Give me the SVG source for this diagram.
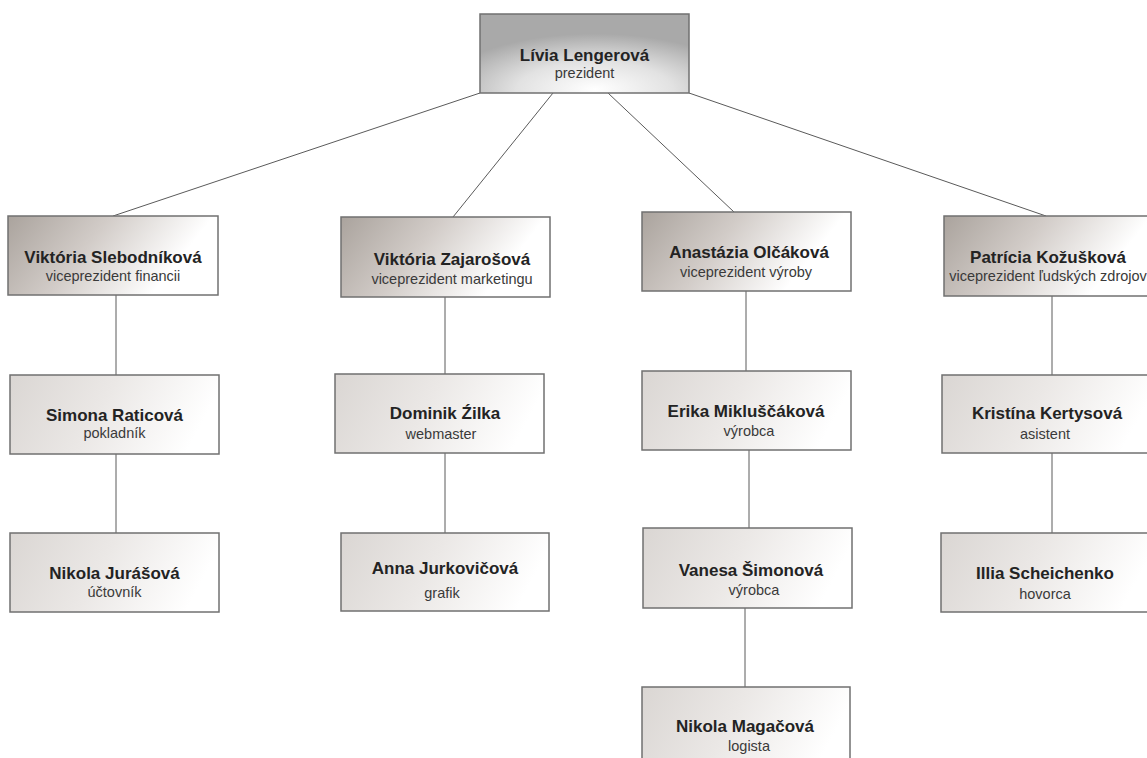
<svg xmlns="http://www.w3.org/2000/svg" width="1147" height="758" viewBox="0 0 1147 758">
<style>
.box{stroke:#707070;stroke-width:1.5}
.vp{fill:url(#gVp)}
.lo{fill:url(#gLo)}
.top{fill:url(#gTop)}
.n{font-family:"Liberation Sans",Arial,sans-serif;font-weight:bold;font-size:17px;fill:#232323;text-anchor:middle}
.s{font-family:"Liberation Sans",Arial,sans-serif;font-size:14.5px;fill:#3a3a3a;text-anchor:middle}
.c line{stroke:#5a5a5a;stroke-width:1}
</style>
<defs>
<linearGradient id="gVp" x1="0" y1="0" x2="1" y2="0.3">
<stop offset="0" stop-color="#aaa39d"/>
<stop offset="0.45" stop-color="#d2ccc8"/>
<stop offset="0.9" stop-color="#ffffff"/>
</linearGradient>
<linearGradient id="gLo" x1="0" y1="0" x2="1" y2="0.2">
<stop offset="0" stop-color="#dad6d3"/>
<stop offset="0.5" stop-color="#ebe8e6"/>
<stop offset="1" stop-color="#ffffff"/>
</linearGradient>
<radialGradient id="gTop" cx="0.55" cy="1" r="0.75" fx="0.55" fy="0.95">
<stop offset="0" stop-color="#ffffff"/>
<stop offset="0.5" stop-color="#e2e2e2"/>
<stop offset="1" stop-color="#a9a9a9"/>
</radialGradient>
</defs>
<rect width="1147" height="758" fill="#ffffff"/>
<g class="c" id="connectors">
<line x1="480" y1="93" x2="113" y2="216"/>
<line x1="553" y1="93" x2="453" y2="217"/>
<line x1="608" y1="93" x2="734" y2="212"/>
<line x1="689" y1="93" x2="1046" y2="216"/>
<line x1="116" y1="295" x2="116" y2="375"/>
<line x1="116" y1="454" x2="116" y2="533"/>
<line x1="445" y1="297" x2="445" y2="374"/>
<line x1="445" y1="453" x2="445" y2="533"/>
<line x1="746" y1="291" x2="746" y2="371"/>
<line x1="749" y1="450" x2="749" y2="528"/>
<line x1="745" y1="608" x2="745" y2="687"/>
<line x1="1052" y1="296" x2="1052" y2="375"/>
<line x1="1052" y1="453" x2="1052" y2="533"/>
</g>
<g id="pres">
<rect class="box top" x="480" y="14" width="209" height="79"/>
<text class="n" x="584.5" y="61">Lívia Lengerová</text>
<text class="s" x="584.5" y="78">prezident</text>
</g>
<g id="vp1">
<rect class="box vp" x="8" y="216" width="210" height="79"/>
<text class="n" x="113" y="263">Viktória Slebodníková</text>
<text class="s" x="113" y="281">viceprezident financii</text>
</g>
<g id="vp2">
<rect class="box vp" x="341" y="217" width="209" height="80"/>
<text class="n" x="452" y="265">Viktória Zajarošová</text>
<text class="s" x="452" y="284">viceprezident marketingu</text>
</g>
<g id="vp3">
<rect class="box vp" x="642" y="212" width="209" height="79"/>
<text class="n" x="749" y="258">Anastázia Olčáková</text>
<text class="s" x="746" y="277">viceprezident výroby</text>
</g>
<g id="vp4">
<rect class="box vp" x="944" y="216" width="212" height="80"/>
<text class="n" x="1048" y="263">Patrícia Kožušková</text>
<text class="s" x="1048" y="281">viceprezident ľudských zdrojov</text>
</g>
<g id="simona">
<rect class="box lo" x="10" y="375" width="209" height="79"/>
<text class="n" x="114.5" y="421">Simona Raticová</text>
<text class="s" x="114.5" y="438">pokladník</text>
</g>
<g id="nikolaJ">
<rect class="box lo" x="10" y="533" width="209" height="79"/>
<text class="n" x="114.5" y="579">Nikola Jurášová</text>
<text class="s" x="114.5" y="597">účtovník</text>
</g>
<g id="dominik">
<rect class="box lo" x="335" y="374" width="209" height="79"/>
<text class="n" x="445" y="419">Dominik Źilka</text>
<text class="s" x="441" y="439">webmaster</text>
</g>
<g id="anna">
<rect class="box lo" x="341" y="533" width="208" height="78"/>
<text class="n" x="445" y="574">Anna Jurkovičová</text>
<text class="s" x="442" y="598">grafik</text>
</g>
<g id="erika">
<rect class="box lo" x="642" y="371" width="209" height="79"/>
<text class="n" x="746" y="417">Erika Mikluščáková</text>
<text class="s" x="749" y="436">výrobca</text>
</g>
<g id="vanesa">
<rect class="box lo" x="643" y="528" width="209" height="80"/>
<text class="n" x="751" y="576">Vanesa Šimonová</text>
<text class="s" x="754" y="595">výrobca</text>
</g>
<g id="nikolaM">
<rect class="box lo" x="642" y="687" width="208" height="80"/>
<text class="n" x="745" y="732">Nikola Magačová</text>
<text class="s" x="749" y="751">logista</text>
</g>
<g id="kristina">
<rect class="box lo" x="942" y="375" width="212" height="78"/>
<text class="n" x="1047" y="419">Kristína Kertysová</text>
<text class="s" x="1045" y="439">asistent</text>
</g>
<g id="illia">
<rect class="box lo" x="941" y="533" width="213" height="79"/>
<text class="n" x="1045" y="579">Illia Scheichenko</text>
<text class="s" x="1045" y="599">hovorca</text>
</g>
</svg>
